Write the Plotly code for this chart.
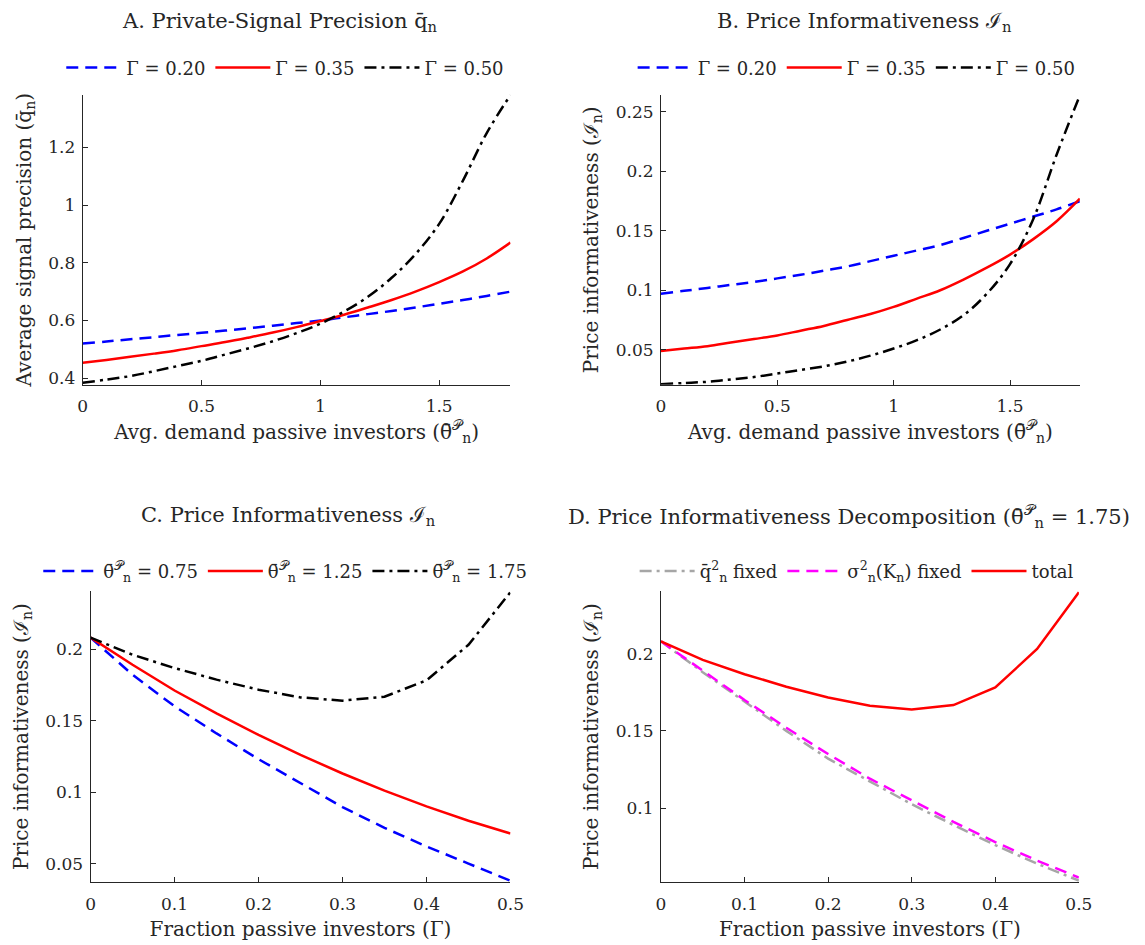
import plotly.graph_objects as go

# ---------------- data ----------------
theta_grid = [0.0, 0.1, 0.2, 0.3, 0.4, 0.5, 0.6, 0.7, 0.8, 0.9, 1.0,
              1.1, 1.2, 1.3, 1.4, 1.5, 1.6, 1.7, 1.8]
# Panel A: average signal precision
qbar_g020 = [0.520, 0.527, 0.535, 0.542, 0.550, 0.557, 0.565, 0.573, 0.582, 0.591,
             0.600, 0.611, 0.622, 0.633, 0.645, 0.658, 0.671, 0.685, 0.700]
qbar_g035 = [0.453, 0.463, 0.474, 0.485, 0.497, 0.511, 0.525, 0.541, 0.558, 0.577,
             0.598, 0.620, 0.645, 0.671, 0.700, 0.733, 0.770, 0.815, 0.870]
qbar_g050 = [0.384, 0.395, 0.407, 0.424, 0.442, 0.460, 0.482, 0.504, 0.528, 0.556,
             0.589, 0.631, 0.682, 0.748, 0.830, 0.935, 1.085, 1.250, 1.382]
# Panel B: price informativeness vs theta
info_g020 = [0.097, 0.0995, 0.102, 0.1045, 0.107, 0.110, 0.113, 0.1165, 0.120, 0.1245,
             0.129, 0.1335, 0.138, 0.144, 0.150, 0.156, 0.162, 0.168, 0.175]
info_g035 = [0.049, 0.051, 0.053, 0.056, 0.059, 0.062, 0.066, 0.070, 0.075, 0.080,
             0.086, 0.093, 0.100, 0.109, 0.119, 0.130, 0.143, 0.158, 0.177]
info_g050 = [0.021, 0.022, 0.023, 0.025, 0.027, 0.030, 0.033, 0.036, 0.040, 0.045,
             0.051, 0.058, 0.067, 0.079, 0.097, 0.122, 0.160, 0.214, 0.264]
# Panels C / D: vs fraction passive
gamma_grid = [0.0, 0.05, 0.1, 0.15, 0.2, 0.25, 0.3, 0.35, 0.4, 0.45, 0.5]
info_t075 = [0.208, 0.182, 0.160, 0.141, 0.123, 0.106, 0.0895, 0.075, 0.062, 0.050, 0.038]
info_t125 = [0.208, 0.189, 0.171, 0.155, 0.140, 0.126, 0.113, 0.101, 0.090, 0.080, 0.071]
info_t175 = [0.208, 0.196, 0.1867, 0.1786, 0.1716, 0.1662, 0.1639, 0.1667, 0.1781, 0.203, 0.2398]
dec_q_fixed = [0.208, 0.188, 0.169, 0.150, 0.132, 0.117, 0.1025, 0.089, 0.076, 0.064, 0.053]
dec_s_fixed = [0.208, 0.189, 0.170, 0.152, 0.135, 0.119, 0.105, 0.091, 0.078, 0.066, 0.055]

THB = "θ\u0304<sup>𝒫</sup><sub>n</sub>"
FONT = "DejaVu Serif"
TXT = "#262626"
BLUE, RED, BLACK, GRAY, MAG = "#0000ff", "#ff0000", "#000000", "#a6a6a6", "#ff00ff"
DASH = "12px,7px"
DASHDOT = "12px,5px,3px,5px"
LW = 2.5

fig = go.Figure()

def add(x, y, name, color, dash, ax, leg, shape="linear"):
    line = dict(color=color, width=LW, dash=dash, shape=shape)
    if shape == "spline":
        line["smoothing"] = 1.0
    fig.add_trace(go.Scatter(x=x, y=y, mode="lines", name=name, line=line,
                             xaxis="x" + ax, yaxis="y" + ax, legend=leg))

add(theta_grid, qbar_g020, "Γ = 0.20", BLUE, DASH, "", "legend", "spline")
add(theta_grid, qbar_g035, "Γ = 0.35", RED, "solid", "", "legend", "spline")
add(theta_grid, qbar_g050, "Γ = 0.50", BLACK, DASHDOT, "", "legend", "spline")

add(theta_grid, info_g020, "Γ = 0.20", BLUE, DASH, "2", "legend2", "spline")
add(theta_grid, info_g035, "Γ = 0.35", RED, "solid", "2", "legend2", "spline")
add(theta_grid, info_g050, "Γ = 0.50", BLACK, DASHDOT, "2", "legend2", "spline")

add(gamma_grid, info_t075, THB + " = 0.75", BLUE, DASH, "3", "legend3")
add(gamma_grid, info_t125, THB + " = 1.25", RED, "solid", "3", "legend3")
add(gamma_grid, info_t175, THB + " = 1.75", BLACK, DASHDOT, "3", "legend3")

add(gamma_grid, dec_q_fixed, "q\u0304<sup>2</sup><sub>n</sub> fixed", GRAY, DASHDOT, "4", "legend4")
add(gamma_grid, dec_s_fixed, "σ<sup>2</sup><sub>n</sub>(K<sub>n</sub>) fixed", MAG, DASH, "4", "legend4")
add(gamma_grid, info_t175, "total", RED, "solid", "4", "legend4")

W, H = 1145, 945
def px(x): return x / W
def py(y): return 1 - y / H

top = (py(386), py(95))
bot = (py(885), py(593))
colA = (px(79), px(514))
colB = (px(667), px(1093))
colC = (px(87), px(514))
colD = (px(667), px(1092))

axbase = dict(showline=True, linecolor=TXT, linewidth=1, ticks="inside", ticklen=5,
              tickcolor=TXT, showgrid=False, zeroline=False, mirror=False,
              tickfont=dict(family=FONT, size=17, color=TXT),
              title_font=dict(family=FONT, size=20, color=TXT))

def xa(dom, anchor, rng, tv, tt, title):
    d = dict(axbase); d.update(domain=dom, anchor=anchor, range=rng, tickvals=tv,
                               ticktext=tt, title_text=title, title_standoff=9,
                               ticklabelstandoff=6)
    return d

def ya(dom, anchor, rng, tv, tt, title):
    d = dict(axbase); d.update(domain=dom, anchor=anchor, range=rng, tickvals=tv,
                               ticktext=tt, title_text=title, title_standoff=11,
                               ticklabelstandoff=3)
    return d

xl_theta = "Avg. demand passive investors (" + THB + ")"
xl_gamma = "Fraction passive investors (Γ)"
g_tv = [0, 0.1, 0.2, 0.3, 0.4, 0.5]
g_tt = ["0", "0.1", "0.2", "0.3", "0.4", "0.5"]
t_tv = [0, 0.5, 1, 1.5]
t_tt = ["0", "0.5", "1", "1.5"]

fig.update_layout(
    xaxis=xa(colA, "y", [0, 1.8], t_tv, t_tt, xl_theta),
    yaxis=ya(top, "x", [0.377, 1.383], [0.4, 0.6, 0.8, 1.0, 1.2],
             ["0.4", "0.6", "0.8", "1", "1.2"], "Average signal precision (q\u0304<sub>n</sub>)"),
    xaxis2=xa(colB, "y2", [0, 1.8], t_tv, t_tt, xl_theta),
    yaxis2=ya(top, "x2", [0.0205, 0.2645], [0.05, 0.1, 0.15, 0.2, 0.25],
              ["0.05", "0.1", "0.15", "0.2", "0.25"], "Price informativeness (ℐ<sub>n</sub>)"),
    xaxis3=xa(colC, "y3", [0, 0.5], g_tv, g_tt, xl_gamma),
    yaxis3=ya(bot, "x3", [0.037, 0.2405], [0.05, 0.1, 0.15, 0.2],
              ["0.05", "0.1", "0.15", "0.2"], "Price informativeness (ℐ<sub>n</sub>)"),
    xaxis4=xa(colD, "y4", [0, 0.5], g_tv, g_tt, xl_gamma),
    yaxis4=ya(bot, "x4", [0.052, 0.2405], [0.1, 0.15, 0.2],
              ["0.1", "0.15", "0.2"], "Price informativeness (ℐ<sub>n</sub>)"),
)

def leg(xc, yc):
    return dict(orientation="h", x=xc, y=yc, xanchor="center", yanchor="middle",
                font=dict(family=FONT, size=18, color=TXT), bgcolor="rgba(0,0,0,0)",
                itemwidth=55, tracegroupgap=0)

fig.update_layout(
    legend=leg(px(285), py(68)),
    legend2=leg(px(866), py(68)),
    legend3=leg(px(285), py(573)),
    legend4=leg(px(866), py(573)),
)

titles = [
    ("A. Private-Signal Precision q\u0304<sub>n</sub>", 280, 22),
    ("B. Price Informativeness ℐ<sub>n</sub>", 874, 22),
    ("C. Price Informativeness ℐ<sub>n</sub>", 288, 518),
    ("D. Price Informativeness Decomposition (" + THB + " = 1.75)", 858, 518),
]
for t, x, y in titles:
    fig.add_annotation(text=t, x=px(x), y=py(y), xref="paper", yref="paper",
                       xanchor="center", yanchor="middle", showarrow=False,
                       font=dict(family=FONT, size=21, color=TXT))

fig.update_layout(width=W, height=H, margin=dict(l=0, r=0, t=0, b=0),
                  paper_bgcolor="white", plot_bgcolor="white", showlegend=True)

fig.write_html("out.html")
